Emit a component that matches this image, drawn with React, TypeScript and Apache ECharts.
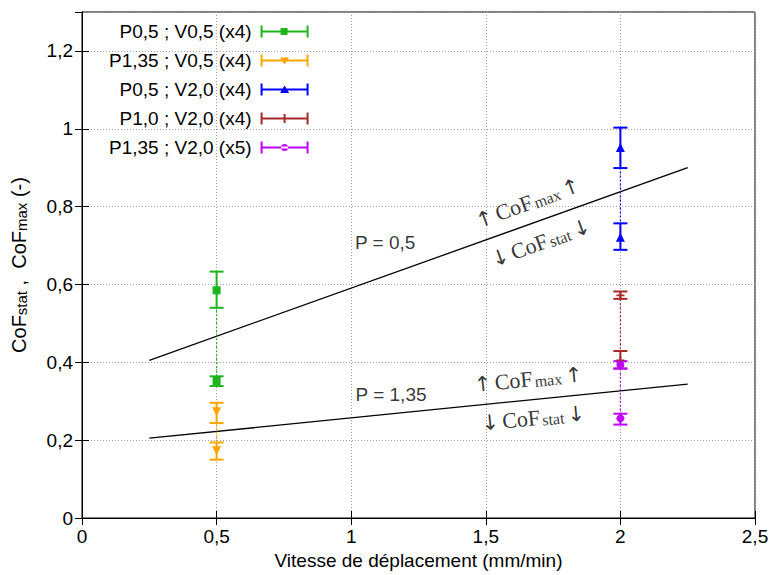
import React, { useEffect, useRef } from "react";
import * as echarts from "echarts";

// ---- data ----
const seriesNames = [
  "P0,5 ; V0,5 (x4)",
  "P1,35 ; V0,5 (x4)",
  "P0,5 ; V2,0 (x4)",
  "P1,0 ; V2,0 (x4)",
  "P1,35 ; V2,0 (x5)",
];
const seriesColors = ["#1cb51c", "#ffa500", "#0000ff", "#a52a2a", "#c000ff"];
const seriesX = [
  [0.5, 0.5],
  [0.5, 0.5],
  [2.0, 2.0],
  [2.0, 2.0],
  [2.0, 2.0],
];
const seriesY = [
  [0.585, 0.352],
  [0.273, 0.173],
  [0.952, 0.721],
  [0.572, 0.405],
  [0.394, 0.256],
];
const seriesLow = [
  [0.54, 0.339],
  [0.244, 0.15],
  [0.899, 0.689],
  [0.563, 0.384],
  [0.384, 0.24],
];
const seriesHigh = [
  [0.633, 0.364],
  [0.296, 0.194],
  [1.003, 0.757],
  [0.582, 0.429],
  [0.403, 0.268],
];
// fitted trend lines
const trendP05X = [0.25, 2.25];
const trendP05Y = [0.405, 0.9];
const trendP135X = [0.25, 2.25];
const trendP135Y = [0.205, 0.344];
// annotations
const pLabels = [
  { x: 1.126, y: 0.708, text: "P = 0,5" },
  { x: 1.148, y: 0.318, text: "P = 1,35" },
];
const cofLabels = [
  { x: 1.653, y: 0.815, kind: "max", rot: 20 },
  { x: 1.701, y: 0.713, kind: "stat", rot: 20 },
  { x: 1.657, y: 0.362, kind: "max", rot: 5.7 },
  { x: 1.675, y: 0.262, kind: "stat", rot: 5.7 },
];

const markerPaths = [
  "M20,2.5h7v7h-7z", // square
  "M19.5,3h9l-4.5,7z", // down triangle
  "M24,2l4.5,7.5h-9z", // up triangle
  "M23,1.5h2v9h-2z M20,5h8v2h-8z", // plus
  "M20.5,6a3.5,3.5 0 1,0 7,0a3.5,3.5 0 1,0 -7,0z", // circle
];
const symbols = [
  "rect",
  "path://M0,0L10,0L5,9Z",
  "triangle",
  "path://M4,0h2v4h4v2h-4v4h-2v-4h-4v-2h4z",
  "circle",
];
const symbolSizes = [8, 9, 9, 8, 8];

const legendIcon = (i: number) =>
  "path://M0,0h2v12h-2z M46,0h2v12h-2z M0,5h48v2h-48z " + markerPaths[i];

const fmt = (v: number) => String(Math.round(v * 100) / 100).replace(".", ",");

export default function App() {
  const ref = useRef<HTMLDivElement>(null);
  useEffect(() => {
    if (!ref.current) return;
    const chart = echarts.init(ref.current, undefined, { renderer: "svg" });
    const sans = "Liberation Sans";
    const serif = "Liberation Serif";
    const FS = 19;

    const series: any[] = [];
    seriesNames.forEach((name, i) => {
      series.push({
        type: "custom",
        name,
        itemStyle: { color: seriesColors[i] },
        encode: { x: 0, y: [1, 2] },
        data: seriesX[i].map((x, j) => [x, seriesLow[i][j], seriesHigh[i][j]]),
        renderItem: (params: any, api: any) => {
          const x = api.value(0);
          const pLo = api.coord([x, api.value(1)]);
          const pHi = api.coord([x, api.value(2)]);
          const hw = 7;
          const style = { stroke: seriesColors[i], lineWidth: 2 };
          return {
            type: "group",
            children: [
              { type: "line", shape: { x1: pLo[0], y1: pLo[1], x2: pHi[0], y2: pHi[1] }, style },
              { type: "line", shape: { x1: pLo[0] - hw, y1: pLo[1], x2: pLo[0] + hw, y2: pLo[1] }, style },
              { type: "line", shape: { x1: pHi[0] - hw, y1: pHi[1], x2: pHi[0] + hw, y2: pHi[1] }, style },
            ],
          };
        },
        z: 3,
      });
      series.push({
        type: "line",
        data: seriesX[i].map((x, j) => [x, seriesY[i][j]]),
        symbol: symbols[i],
        symbolSize: symbolSizes[i],
        showSymbol: true,
        itemStyle: { color: seriesColors[i] },
        lineStyle: { color: seriesColors[i], width: 1.2, type: [2, 2] },
        z: 4,
        silent: true,
      });
    });
    [
      [trendP05X, trendP05Y],
      [trendP135X, trendP135Y],
    ].forEach(([xs, ys]) => {
      series.push({
        type: "line",
        data: xs.map((x, j) => [x, ys[j]]),
        symbol: "none",
        lineStyle: { color: "#000", width: 1.3 },
        z: 2,
        silent: true,
      });
    });
    series.push({
      type: "scatter",
      symbolSize: 0,
      silent: true,
      data: pLabels.map((p) => ({
        value: [p.x, p.y],
        label: {
          show: true,
          position: "inside",
          formatter: p.text,
          fontFamily: sans,
          fontSize: FS,
          color: "#000",
        },
      })),
      z: 5,
    });
    series.push({
      type: "scatter",
      symbolSize: 0,
      silent: true,
      data: cofLabels.map((c) => {
        const arrow = c.kind === "max" ? "↑" : "↓";
        return {
          value: [c.x, c.y],
          label: {
            show: true,
            position: "inside",
            rotate: c.rot,
            formatter: `{ar|${arrow}} {m|CoF}{s|${c.kind}} {ar|${arrow}}`,
            rich: {
              ar: { fontFamily: "DejaVu Sans", fontSize: 21, color: "#000", lineHeight: 26, verticalAlign: "bottom" },
              m: { fontFamily: serif, fontSize: 22, color: "#000", lineHeight: 26, verticalAlign: "bottom" },
              s: { fontFamily: serif, fontSize: 16, color: "#000", lineHeight: 16, verticalAlign: "bottom", padding: [0, 0, 0, 2] },
            },
          },
        };
      }),
      z: 5,
    });

    chart.setOption({
      animation: false,
      backgroundColor: "#fff",
      textStyle: { fontFamily: sans },
      grid: { left: 82, right: 19, top: 12, bottom: 57, show: true, borderColor: "#000", borderWidth: 1 },
      legend: {
        orient: "vertical",
        left: 104,
        top: 17,
        align: "right",
        itemWidth: 48,
        itemHeight: 12,
        itemGap: 10,
        textStyle: { fontFamily: sans, fontSize: FS, lineHeight: 19, color: "#000", padding: [0, 4, 0, 0] },
        data: seriesNames.map((n, i) => ({ name: n, icon: legendIcon(i) })),
        selectedMode: false,
      },
      xAxis: [
        {
          type: "value",
          min: 0,
          max: 2.5,
          interval: 0.5,
          name: "Vitesse de déplacement (mm/min)",
          nameLocation: "middle",
          nameGap: 31,
          nameTextStyle: { fontFamily: sans, fontSize: FS, color: "#000" },
          axisLine: { lineStyle: { color: "#000" } },
          axisTick: { inside: true, length: 7, lineStyle: { color: "#000" } },
          axisLabel: { formatter: fmt, fontFamily: sans, fontSize: FS, color: "#000", margin: 9 },
          splitLine: { show: true, lineStyle: { color: "#a0a0a0", type: [1, 2] } },
        },
        {
          type: "value",
          position: "top",
          min: 0,
          max: 2.5,
          interval: 0.5,
          axisLine: { show: true, lineStyle: { color: "#000" } },
          axisTick: { show: true, inside: true, length: 7, lineStyle: { color: "#000" } },
          axisLabel: { show: false },
          splitLine: { show: false },
        },
      ],
      yAxis: [
        {
          type: "value",
          min: 0,
          max: 1.3,
          interval: 0.2,
          name: "{a|CoF}{s|stat}{a| ,  CoF}{s|max}{a| (-)}",
          nameLocation: "middle",
          nameGap: 53,
          nameRotate: 90,
          nameTextStyle: {
            rich: {
              a: { fontFamily: sans, fontSize: 20, color: "#000", lineHeight: 24, verticalAlign: "bottom" },
              s: { fontFamily: sans, fontSize: 15, color: "#000", lineHeight: 15, verticalAlign: "bottom" },
            },
          },
          axisLine: { lineStyle: { color: "#000" } },
          axisTick: { inside: true, length: 7, lineStyle: { color: "#000" } },
          axisLabel: { formatter: fmt, fontFamily: sans, fontSize: FS, color: "#000", margin: 9, showMaxLabel: false },
          splitLine: { show: true, lineStyle: { color: "#a0a0a0", type: [1, 2] } },
        },
        {
          type: "value",
          position: "right",
          min: 0,
          max: 1.3,
          interval: 0.2,
          axisLine: { show: true, lineStyle: { color: "#000" } },
          axisTick: { show: true, inside: true, length: 7, lineStyle: { color: "#000" } },
          axisLabel: { show: false },
          splitLine: { show: false },
        },
      ],
      series,
    });
    return () => chart.dispose();
  }, []);
  return <div ref={ref} style={{ width: 774, height: 575, position: "absolute", left: 0, top: 0 }} />;
}
